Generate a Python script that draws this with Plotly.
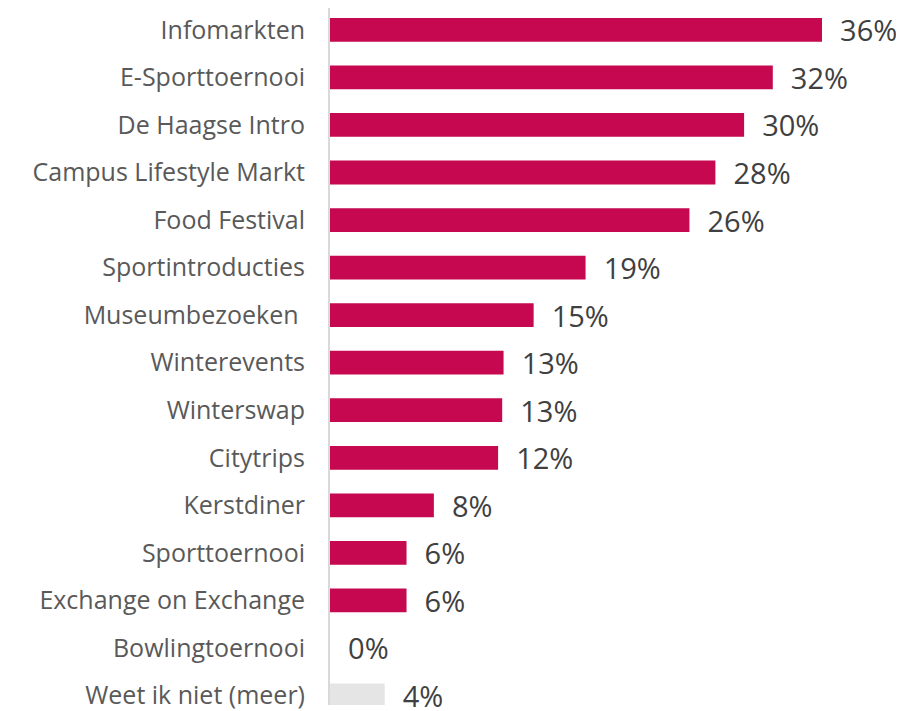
import plotly.graph_objs as go

categories = [
    "Infomarkten",
    "E-Sporttoernooi",
    "De Haagse Intro",
    "Campus Lifestyle Markt",
    "Food Festival",
    "Sportintroducties",
    "Museumbezoeken ",
    "Winterevents",
    "Winterswap",
    "Citytrips",
    "Kerstdiner",
    "Sporttoernooi",
    "Exchange on Exchange",
    "Bowlingtoernooi",
    "Weet ik niet (meer)",
]
values = [36.0, 32.4, 30.3, 28.2, 26.3, 18.7, 14.9, 12.7, 12.6, 12.3, 7.6, 5.6, 5.6, 0.0, 4.0]

MAIN = "#C5084F"
OTHER = "#E5E5E5"
bar_colors = [OTHER if c.startswith("Weet") else MAIN for c in categories]
positions = list(range(len(categories)))

fig = go.Figure()
fig.add_trace(
    go.Bar(
        x=values,
        y=positions,
        orientation="h",
        marker={"color": bar_colors, "line": {"width": 0}},
        width=0.5,
        texttemplate="\u00a0\u00a0%{x:.0f}%",
        textposition="outside",
        constraintext="none",
        cliponaxis=False,
        textfont={"family": "Open Sans", "size": 29, "color": "#404040"},
        hoverinfo="skip",
    )
)

# page body adds an 8px offset: shrink the figure so it fits the window
fig.update_layout(
    width=896,
    height=703,
    margin={"l": 322, "r": 0, "t": 0, "b": 0},
    paper_bgcolor="white",
    plot_bgcolor="white",
    showlegend=False,
)
fig.update_xaxes(range=[0, 42.0], visible=False, showgrid=False, zeroline=False)
fig.update_yaxes(
    range=[14.20, -0.46],
    tickmode="array",
    tickvals=positions,
    ticktext=categories,
    ticklabeloverflow="allow",
    showline=True,
    linecolor="#D9D9D9",
    linewidth=2,
    showgrid=False,
    zeroline=False,
    ticks="",
    ticklabelstandoff=18,
    tickfont={"family": "Open Sans", "size": 25, "color": "#595959"},
)

fig.write_html("out.html")
